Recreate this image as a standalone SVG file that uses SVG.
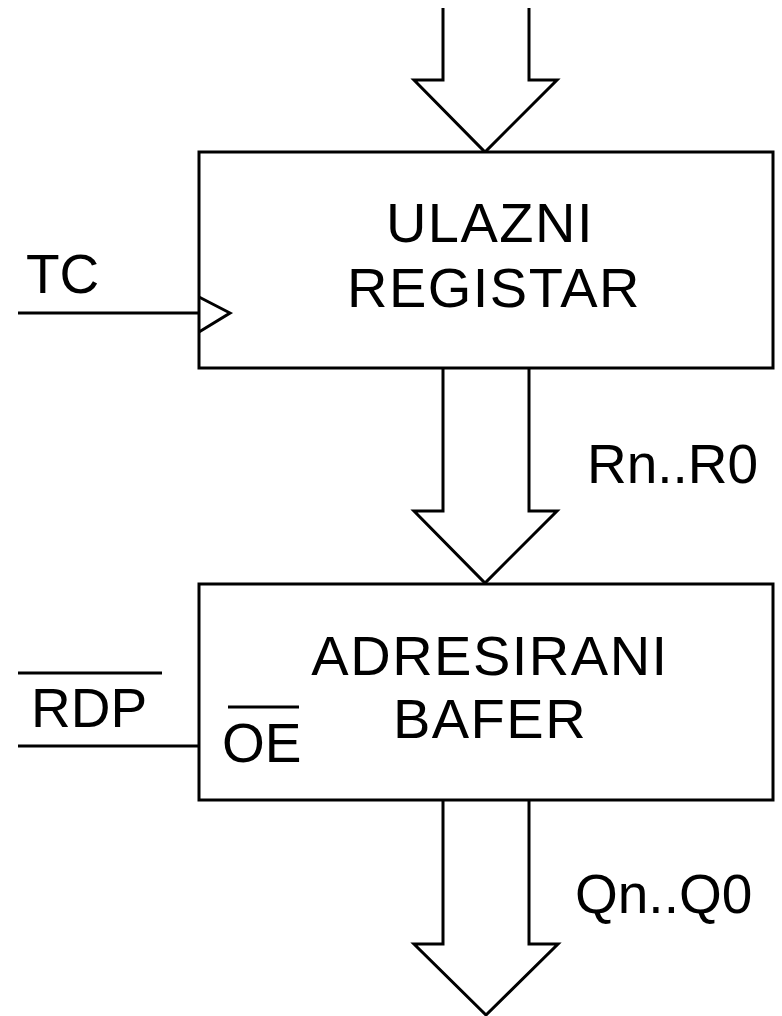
<svg xmlns="http://www.w3.org/2000/svg" width="782" height="1016" viewBox="0 0 782 1016">
<style>
.ln{fill:none;stroke:#000;stroke-width:3;stroke-linejoin:miter}
.box{fill:#fff;stroke:#000;stroke-width:3}
.t{font-family:"Liberation Sans",Arial,sans-serif;font-size:55px;fill:#000}
.b{font-size:56px;letter-spacing:1.5px}
</style>
<rect width="782" height="1016" fill="#fff"/>
<g id="connectors">
<path id="bus-in" class="ln" d="M443,8 V80 H414 L485,152 L557,80 H529 V8"/>
<path id="bus-r" class="ln" d="M443,368 V511 H414 L485,583 L557,511 H529 V368"/>
<path id="bus-q" class="ln" d="M443,800 V944 H414 L486,1015 L558,944 H529 V800"/>
<path id="tc-line" class="ln" d="M18,313 H199"/>
<path id="rdp-line" class="ln" d="M18,746 H199"/>
</g>
<g id="ulazni-registar">
<rect class="box" x="199" y="152" width="574" height="216"/>
<path class="ln" d="M199,297 L230,313 L199,332"/>
<text class="t b" x="490" y="242" text-anchor="middle">ULAZNI</text>
<text class="t b" x="494" y="307" text-anchor="middle">REGISTAR</text>
</g>
<g id="adresirani-bafer">
<rect class="box" x="199" y="584" width="574" height="216"/>
<text class="t b" x="490" y="675" text-anchor="middle">ADRESIRANI</text>
<text class="t b" x="490" y="738" text-anchor="middle">BAFER</text>
<text class="t" x="222" y="762">OE</text>
<path class="ln" d="M228,707 H299"/>
</g>
<g id="labels">
<text class="t" x="26" y="293">TC</text>
<text class="t" x="31" y="727">RDP</text>
<path class="ln" d="M18,673 H162"/>
<text class="t" x="587" y="483">Rn..R0</text>
<text class="t" x="575" y="913">Qn..Q0</text>
</g>
</svg>
